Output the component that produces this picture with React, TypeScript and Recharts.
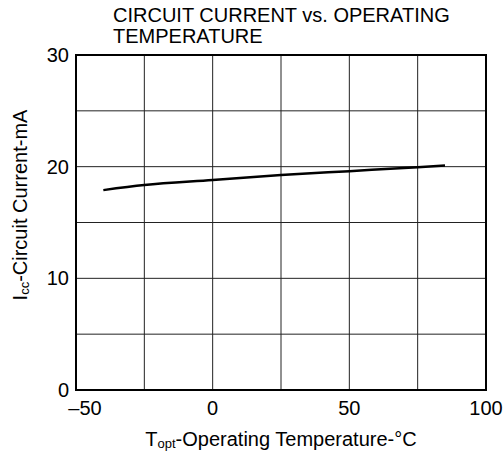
import React from 'react';
import { LineChart, Line, XAxis, YAxis, CartesianGrid, ReferenceArea } from 'recharts';

const temperatures = [-40, -25, 0, 25, 50, 75, 85];
const currents = [17.9, 18.35, 18.8, 19.25, 19.6, 19.95, 20.1];
const xTicks = [-50, -25, 0, 25, 50, 75, 100];
const yTicks = [0, 5, 10, 15, 20, 25, 30];
const xLabelled = [-50, 0, 50, 100];
const yLabelled = [0, 10, 20, 30];
const titleLines = ['CIRCUIT CURRENT vs. OPERATING', 'TEMPERATURE'];

const data = temperatures.map((t, i) => ({ t, i: currents[i] }));

const FONT = '"Liberation Sans", Arial, Helvetica, sans-serif';

const XTick = (props: any) => {
  const { x, y, payload } = props;
  const v = payload.value;
  if (!xLabelled.includes(v)) return <g />;
  const label = v < 0 ? '\u2013' + Math.abs(v) : String(v);
  return (
    <text x={x + (v === -50 ? 9 : 0)} y={y} dy="0.71em" textAnchor="middle" fill="#000" fontSize={20} fontFamily={FONT}>
      {label}
    </text>
  );
};

const YTick = (props: any) => {
  const { x, y, payload } = props;
  const v = payload.value;
  if (!yLabelled.includes(v)) return <g />;
  return (
    <text x={x} y={y} dy="0.355em" textAnchor="end" fill="#000" fontSize={20} fontFamily={FONT}>
      {String(v)}
    </text>
  );
};

const XLabel = () => (
  <text x={281} y={446} textAnchor="middle" fill="#000" fontSize={20} fontFamily={FONT}>
    <tspan>T</tspan>
    <tspan fontSize={13} dy={2}>opt</tspan>
    <tspan dy={-2}>-Operating Temperature-°C</tspan>
  </text>
);

const YLabel = () => (
  <text x={27} y={205} transform="rotate(-90, 27, 205)" textAnchor="middle" fill="#000" fontSize={20} fontFamily={FONT}>
    <tspan>I</tspan>
    <tspan fontSize={13} dy={2}>cc</tspan>
    <tspan dy={-2}>-Circuit Current-mA</tspan>
  </text>
);

export default function App() {
  return (
    <div style={{ position: 'absolute', left: 0, top: 0, width: 504, height: 456, background: '#fff', fontFamily: FONT }}>
      <div style={{ position: 'absolute', left: 113, top: 5, fontSize: 20, lineHeight: '21px', color: '#000', whiteSpace: 'nowrap' }}>
        {titleLines.map((l) => (
          <div key={l}>{l}</div>
        ))}
      </div>
      <LineChart width={504} height={456} data={data} margin={{ top: 55, right: 18, left: 0, bottom: 0 }}>
        <CartesianGrid stroke="#222" strokeWidth={1} />
        <XAxis
          type="number"
          dataKey="t"
          domain={[-50, 100]}
          ticks={xTicks}
          height={66}
          tickSize={0}
          tickMargin={11}
          tickLine={false}
          axisLine={false}
          tick={<XTick />}
          interval={0}
          label={<XLabel />}
        />
        <YAxis
          type="number"
          domain={[0, 30]}
          ticks={yTicks}
          width={76}
          tickSize={0}
          tickMargin={7}
          tickLine={false}
          axisLine={false}
          tick={<YTick />}
          interval={0}
          label={<YLabel />}
        />
        <ReferenceArea x1={-50} x2={100} y1={0} y2={30} fill="none" stroke="#000" strokeWidth={2} />
        <Line type="monotone" dataKey="i" stroke="#000" strokeWidth={2.5} dot={false} isAnimationActive={false} />
      </LineChart>
    </div>
  );
}
